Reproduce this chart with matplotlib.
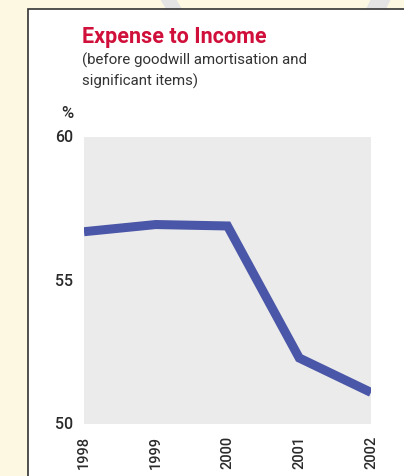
import matplotlib
matplotlib.use("Agg")
import matplotlib.pyplot as plt
from matplotlib.patches import Rectangle, Polygon

plt.rcParams['font.family'] = ['Roboto', 'DejaVu Sans']

years = ["1998", "1999", "2000", "2001", "2002"]
values = [56.7, 56.95, 56.9, 52.3, 51.1]
yticks = [50, 55, 60]

W, H = 404, 477
fig = plt.figure(figsize=(W / 100, H / 100), dpi=100)
fig.patch.set_facecolor("#fdf8e2")

# decorative watermark stripes
for pts in [[(160, 0), (176, 0), (182, 10), (166, 10)], [(371, 0), (391, 0), (386, 10), (366, 10)]]:
    fig.patches.append(Polygon([(x / W, 1 - y / H) for x, y in pts], closed=True,
                               transform=fig.transFigure, facecolor="#e4e4e4",
                               edgecolor="none", zorder=-20))
# white panel
fig.patches.append(Rectangle((28 / W, -0.01), 1, 1 - 10 / H + 0.01, transform=fig.transFigure,
                             facecolor="white", edgecolor="#333333", linewidth=1.2, zorder=-10))

ax = fig.add_axes([84 / W, 1 - 425 / H, (371 - 84) / W, (425 - 138) / H])
ax.set_facecolor("#ebebeb")
x = list(range(len(years)))
ax.plot(x, values, color="#4a56a7", linewidth=6.5, solid_capstyle="butt",
        solid_joinstyle="miter")
ax.set_xlim(0, len(years) - 1)
ax.set_ylim(50, 60)
ax.set_yticks(yticks)
ax.set_yticklabels([str(v) for v in yticks], fontsize=11.5, color="#2a2a2a", fontweight="medium")
ax.set_xticks(x)
ax.set_xticklabels(years, rotation=90, fontsize=10.5, color="#2a2a2a", fontweight="medium")
for lab in ax.get_yticklabels():
    lab.set_verticalalignment("center")
ax.tick_params(length=0, pad=8)
ax.tick_params(axis="x", pad=8)
for s in ax.spines.values():
    s.set_visible(False)

fig.text(82 / W, 1 - 37 / H, "Expense to Income", color="#d0103a", fontsize=15.5,
         fontweight="bold", va="center", ha="left")
fig.text(82 / W, 1 - 71 / H, "(before goodwill amortisation and\nsignificant items)",
         color="#333333", fontsize=10.8, va="center", ha="left", linespacing=1.45)
fig.text(74 / W, 1 - 113 / H, "%", color="#2a2a2a", fontsize=12, fontweight="medium",
         ha="right", va="center")

fig.savefig("out.png", dpi=100, facecolor=fig.get_facecolor())
